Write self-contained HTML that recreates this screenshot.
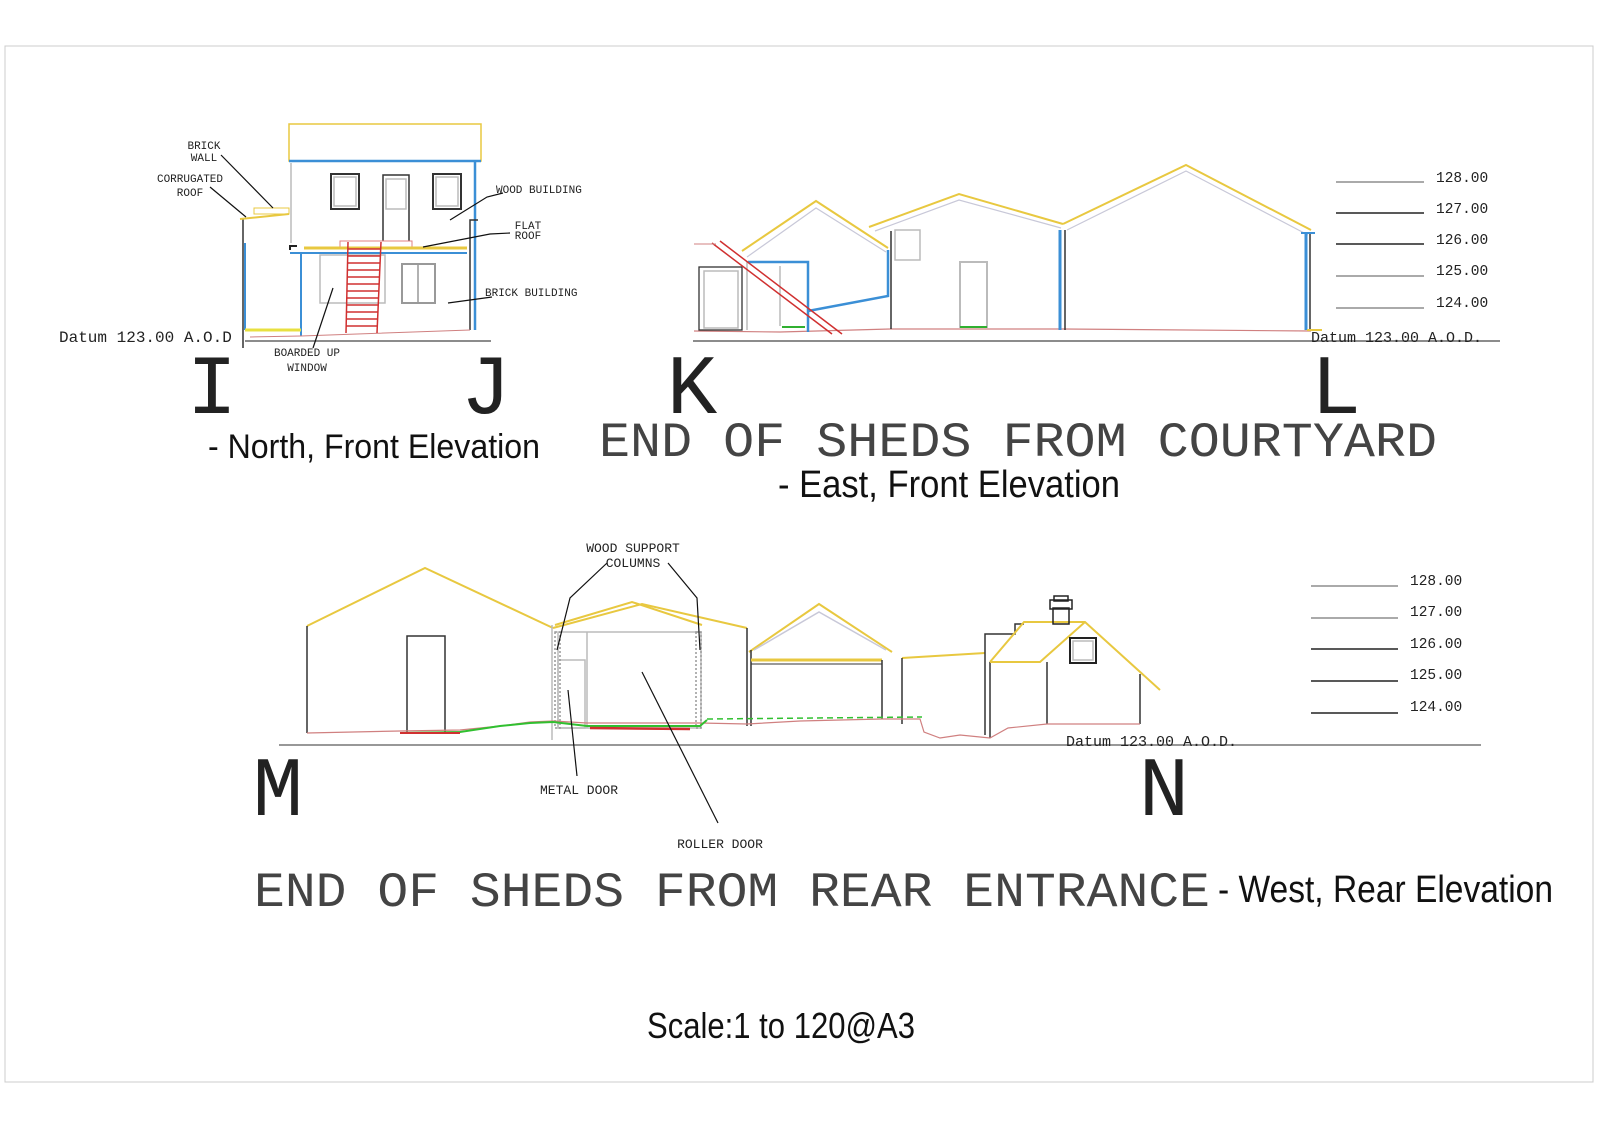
<!DOCTYPE html>
<html><head><meta charset="utf-8"><style>
html,body{margin:0;padding:0;background:#fff;}
svg{display:block;}
.m{font-family:"Liberation Mono",monospace;fill:#222;}
.s{font-family:"Liberation Sans Narrow","Liberation Sans",sans-serif;fill:#111;}
</style></head><body>
<svg width="1600" height="1131" viewBox="0 0 1600 1131" xmlns="http://www.w3.org/2000/svg">
<rect x="5" y="46" width="1588" height="1036" fill="#fff" stroke="#ccc" stroke-width="1"/>

<!-- ===== North elevation ===== -->
<g fill="none" stroke-width="1.5">
<rect x="289" y="124" width="192" height="37" stroke="#e8c840"/>
<line x1="289" y1="161" x2="481" y2="161" stroke="#3b8fd6" stroke-width="2.5"/>
<line x1="475" y1="161" x2="475" y2="330" stroke="#3b8fd6" stroke-width="2.5"/>
<polyline points="478,220 470,220 470,330" stroke="#333"/>
<line x1="291" y1="163" x2="291" y2="243" stroke="#bbb"/>
<rect x="331" y="174" width="28" height="35" stroke="#333" stroke-width="2"/>
<rect x="334" y="177" width="22" height="29" stroke="#bbb"/>
<rect x="433" y="174" width="28" height="35" stroke="#333" stroke-width="2"/>
<rect x="436" y="177" width="22" height="29" stroke="#bbb"/>
<polyline points="383,241 383,175 409,175 409,241" stroke="#333" stroke-width="1.5"/>
<rect x="386" y="179" width="20" height="30" stroke="#bbb"/>
<rect x="340" y="241" width="72" height="6" stroke="#e08080" stroke-width="1"/>
<line x1="304" y1="248" x2="467" y2="248" stroke="#e8c840" stroke-width="3"/>
<line x1="290" y1="253" x2="467" y2="253" stroke="#3b8fd6" stroke-width="2"/>
<rect x="320" y="255" width="65" height="48" stroke="#bbb"/>
<rect x="402" y="264" width="33" height="39" stroke="#999" stroke-width="2"/>
<line x1="418" y1="264" x2="418" y2="303" stroke="#999"/>
<polyline points="290,250 290,246 297,246" stroke="#222" stroke-width="2"/>
<line x1="301" y1="253" x2="301" y2="336" stroke="#3b8fd6" stroke-width="2"/>
<line x1="243" y1="218" x2="243" y2="348" stroke="#333"/>
<line x1="245" y1="243" x2="245" y2="330" stroke="#3b8fd6" stroke-width="2"/>
<line x1="240" y1="219" x2="289" y2="214" stroke="#e8c840" stroke-width="2"/>
<rect x="254" y="208" width="35" height="6" stroke="#e8c840" stroke-width="1"/>
<line x1="245" y1="330" x2="301" y2="330" stroke="#e8e040" stroke-width="3"/>
<polyline points="250,337 301,336 470,330" stroke="#d08080" stroke-width="1"/>
<line x1="245" y1="341" x2="491" y2="341" stroke="#666" stroke-width="1.5"/>
<g stroke="#d03030" stroke-width="1.5">
<line x1="348" y1="242" x2="346" y2="333"/><line x1="381" y1="242" x2="377" y2="333"/>
<line x1="348" y1="249" x2="381" y2="249"/><line x1="348" y1="256" x2="381" y2="256"/>
<line x1="348" y1="263" x2="380" y2="263"/><line x1="348" y1="270" x2="380" y2="270"/>
<line x1="347" y1="277" x2="380" y2="277"/><line x1="347" y1="284" x2="379" y2="284"/>
<line x1="347" y1="291" x2="379" y2="291"/><line x1="347" y1="298" x2="379" y2="298"/>
<line x1="347" y1="305" x2="378" y2="305"/><line x1="347" y1="312" x2="378" y2="312"/>
<line x1="346" y1="319" x2="378" y2="319"/><line x1="346" y1="326" x2="377" y2="326"/>
</g>
<g stroke="#111" stroke-width="1.2">
<line x1="221" y1="155" x2="273" y2="208"/>
<line x1="210" y1="187" x2="246" y2="217"/>
<polyline points="503,193 487,197 450,220"/>
<polyline points="510,233 490,234 423,247"/>
<line x1="492" y1="297" x2="448" y2="303"/>
<line x1="333" y1="288" x2="313" y2="348"/>
</g>
</g>
<g class="m" font-size="11" text-anchor="middle">
<text x="204" y="149">BRICK</text><text x="204" y="161">WALL</text>
<text x="190" y="182">CORRUGATED</text><text x="190" y="196">ROOF</text>
<text x="528" y="229">FLAT</text><text x="528" y="239">ROOF</text>
<text x="307" y="356">BOARDED UP</text><text x="307" y="371">WINDOW</text>
</g>
<g class="m" font-size="11">
<text x="496" y="193">WOOD BUILDING</text>
<text x="485" y="296">BRICK BUILDING</text>
</g>
<text class="m" x="59" y="342" font-size="16">Datum 123.00 A.O.D</text>

<!-- ===== East elevation ===== -->
<g fill="none" stroke-width="1.5">
<line x1="693" y1="341" x2="1500" y2="341" stroke="#666"/>
<polyline points="694,331 780,332 891,329 1063,329 1311,331" stroke="#d08080" stroke-width="1.2"/>
<polyline points="742,251 816,201 888,248" stroke="#e8c840" stroke-width="2"/>
<polyline points="747,257 816,208 886,252" stroke="#c8c8d8" stroke-width="1.2"/>
<rect x="699" y="267" width="43" height="63" stroke="#333" stroke-width="1.3"/>
<rect x="704" y="271" width="34" height="57" stroke="#bbb"/>
<line x1="747" y1="262" x2="747" y2="330" stroke="#bbb"/>
<line x1="780" y1="266" x2="780" y2="326" stroke="#bbb"/>
<polyline points="748,262 808,262 808,332" stroke="#3b8fd6" stroke-width="2.5"/>
<polyline points="808,311 888,296 888,250" stroke="#3b8fd6" stroke-width="2.5"/>
<line x1="782" y1="327" x2="805" y2="327" stroke="#30b030" stroke-width="2"/>
<line x1="712" y1="243" x2="832" y2="334" stroke="#d03030" stroke-width="1.5"/>
<line x1="720" y1="241" x2="842" y2="334" stroke="#d03030" stroke-width="1.5"/>
<line x1="694" y1="244" x2="716" y2="244" stroke="#d08080" stroke-width="1"/>
<polyline points="869,227 959,194 1063,224" stroke="#e8c840" stroke-width="2"/>
<polyline points="875,231 959,200 1061,228" stroke="#c8c8d8" stroke-width="1.2"/>
<line x1="891" y1="231" x2="891" y2="329" stroke="#333"/>
<rect x="895" y="230" width="25" height="30" stroke="#bbb" stroke-width="1.5"/>
<rect x="960" y="262" width="27" height="65" stroke="#bbb" stroke-width="2"/>
<line x1="960" y1="327" x2="987" y2="327" stroke="#30b030" stroke-width="2"/>
<polyline points="1063,224 1186,165 1311,230" stroke="#e8c840" stroke-width="2"/>
<polyline points="1067,230 1186,171 1308,235" stroke="#c8c8d8" stroke-width="1.2"/>
<line x1="1060" y1="230" x2="1060" y2="330" stroke="#3b8fd6" stroke-width="3"/>
<line x1="1065" y1="230" x2="1065" y2="330" stroke="#333"/>
<line x1="1306" y1="233" x2="1306" y2="330" stroke="#3b8fd6" stroke-width="3"/>
<line x1="1310" y1="233" x2="1310" y2="330" stroke="#333"/>
<line x1="1301" y1="233" x2="1315" y2="233" stroke="#3b8fd6" stroke-width="2"/>
<line x1="1307" y1="330" x2="1322" y2="330" stroke="#e8c840" stroke-width="2"/>
</g>
<g class="m" font-size="14.5">
<text x="1436" y="182">128.00</text><text x="1436" y="213">127.00</text>
<text x="1436" y="244">126.00</text><text x="1436" y="275">125.00</text>
<text x="1436" y="307">124.00</text>
</g>
<g stroke="#222" stroke-width="1.5">
<line x1="1336" y1="182" x2="1424" y2="182" stroke="#555" stroke-width="1"/>
<line x1="1336" y1="213" x2="1424" y2="213"/>
<line x1="1336" y1="244" x2="1424" y2="244"/>
<line x1="1336" y1="276" x2="1424" y2="276" stroke="#555" stroke-width="1"/>
<line x1="1336" y1="308" x2="1424" y2="308" stroke="#555" stroke-width="1"/>
</g>
<text class="m" x="1311" y="342" font-size="15">Datum 123.00 A.O.D.</text>

<g class="m" font-size="84" text-anchor="middle" fill="#111">
<text x="212" y="413">I</text>
<text x="486" y="413">J</text>
<text x="692" y="413">K</text>
<text x="1336" y="413">L</text>
<text x="278" y="815">M</text>
<text x="1164" y="815">N</text>
</g>
<text class="s" x="208" y="458" font-size="34" textLength="332" lengthAdjust="spacingAndGlyphs">- North, Front Elevation</text>
<text class="m" x="599" y="456" font-size="49" style="fill:#444" textLength="838" lengthAdjust="spacingAndGlyphs">END OF SHEDS  FROM COURTYARD</text>
<text class="s" x="778" y="497" font-size="38" textLength="342" lengthAdjust="spacingAndGlyphs">- East, Front Elevation</text>

<!-- ===== West elevation ===== -->
<g fill="none" stroke-width="1.5">
<line x1="279" y1="745" x2="1481" y2="745" stroke="#777" stroke-width="1.5"/>
<polyline points="307,626 425,568 553,628" stroke="#e8c840" stroke-width="2"/>
<line x1="307" y1="626" x2="307" y2="733" stroke="#333"/>
<polyline points="407,733 407,636 445,636 445,733" stroke="#333"/>
<polyline points="553,628 642,604 747,628" stroke="#e8c840" stroke-width="2"/>
<polyline points="555,625 632,602 702,625" stroke="#e8c840" stroke-width="2"/>
<rect x="558" y="632" width="143" height="96" stroke="#bbb"/>
<line x1="552" y1="625" x2="552" y2="740" stroke="#bbb"/>
<line x1="587" y1="632" x2="587" y2="728" stroke="#bbb"/>
<rect x="558" y="660" width="27" height="68" stroke="#bbb"/>
<rect x="555" y="632" width="5" height="96" stroke="#999" stroke-dasharray="2,2"/>
<rect x="696" y="632" width="5" height="96" stroke="#999" stroke-dasharray="2,2"/>
<line x1="747" y1="628" x2="747" y2="726" stroke="#333"/>
<polyline points="749,652 819,604 892,652" stroke="#e8c840" stroke-width="2"/>
<polyline points="754,650 819,612 886,650" stroke="#c8c8d8"/>
<line x1="751" y1="650" x2="751" y2="726" stroke="#333"/>
<line x1="751" y1="660" x2="882" y2="660" stroke="#e8c840" stroke-width="3"/>
<line x1="751" y1="664" x2="882" y2="664" stroke="#333" stroke-width="1"/>
<line x1="882" y1="660" x2="882" y2="719" stroke="#333"/>
<polyline points="902,658 985,653" stroke="#e8c840" stroke-width="2"/>
<line x1="902" y1="658" x2="902" y2="724" stroke="#333"/>
<polyline points="985,735 985,634 1015,634 1015,624 1024,624" stroke="#333"/>
<line x1="990" y1="662" x2="990" y2="738" stroke="#333"/>
<polyline points="990,662 1024,622 1085,622 1160,690" stroke="#e8c840" stroke-width="2"/>
<polyline points="990,662 1040,662 1085,622" stroke="#e8c840" stroke-width="2"/>
<line x1="1047" y1="662" x2="1047" y2="724" stroke="#333"/>
<line x1="1140" y1="674" x2="1140" y2="724" stroke="#333"/>
<rect x="1070" y="638" width="26" height="25" stroke="#222" stroke-width="2"/>
<rect x="1073" y="641" width="20" height="19" stroke="#bbb"/>
<rect x="1053" y="608" width="16" height="16" stroke="#222"/>
<rect x="1050" y="600" width="22" height="9" stroke="#222"/>
<rect x="1054" y="596" width="14" height="5" stroke="#222"/>
<polyline points="307,733 400,731 460,730 500,726 530,722 553,721 587,723 700,723 747,724 800,721 882,719 920,719 924,732 940,738 960,735 990,738 1008,728 1047,724 1140,724" stroke="#d08080" stroke-width="1.2"/>
<polyline points="400,733 460,732 500,726 530,723 553,722 587,726 700,726 707,720" stroke="#30c030" stroke-width="2"/>
<line x1="707" y1="719" x2="922" y2="717" stroke="#30c030" stroke-width="1.5" stroke-dasharray="6,4"/>
<line x1="400" y1="733" x2="460" y2="733" stroke="#d03030" stroke-width="2"/>
<line x1="590" y1="728" x2="690" y2="729" stroke="#d03030" stroke-width="2.5"/>
<g stroke="#111" stroke-width="1.2">
<polyline points="607,563 570,598 557,650"/>
<polyline points="668,563 697,598 700,650"/>
<line x1="568" y1="690" x2="577" y2="776"/>
<line x1="642" y1="672" x2="718" y2="823"/>
</g>
</g>
<g class="m" font-size="13" text-anchor="middle">
<text x="633" y="552">WOOD SUPPORT</text><text x="633" y="567">COLUMNS</text>
<text x="579" y="794">METAL DOOR</text>
<text x="720" y="848">ROLLER DOOR</text>
</g>
<g class="m" font-size="14.5">
<text x="1410" y="585">128.00</text><text x="1410" y="616">127.00</text>
<text x="1410" y="648">126.00</text><text x="1410" y="679">125.00</text>
<text x="1410" y="711">124.00</text>
</g>
<g stroke="#222" stroke-width="1.5">
<line x1="1311" y1="586" x2="1398" y2="586" stroke="#555" stroke-width="1"/>
<line x1="1311" y1="618" x2="1398" y2="618" stroke="#555" stroke-width="1"/>
<line x1="1311" y1="649" x2="1398" y2="649"/>
<line x1="1311" y1="681" x2="1398" y2="681"/>
<line x1="1311" y1="713" x2="1398" y2="713"/>
</g>
<text class="m" x="1066" y="746" font-size="15">Datum 123.00 A.O.D.</text>
<text class="m" x="254" y="906" font-size="49" style="fill:#444" textLength="956" lengthAdjust="spacingAndGlyphs">END OF SHEDS  FROM REAR ENTRANCE</text>
<text class="s" x="1218" y="902" font-size="38" textLength="335" lengthAdjust="spacingAndGlyphs">- West, Rear Elevation</text>
<text class="s" x="647" y="1038" font-size="36" textLength="268" lengthAdjust="spacingAndGlyphs">Scale:1 to 120@A3</text>
</svg>
</body></html>
